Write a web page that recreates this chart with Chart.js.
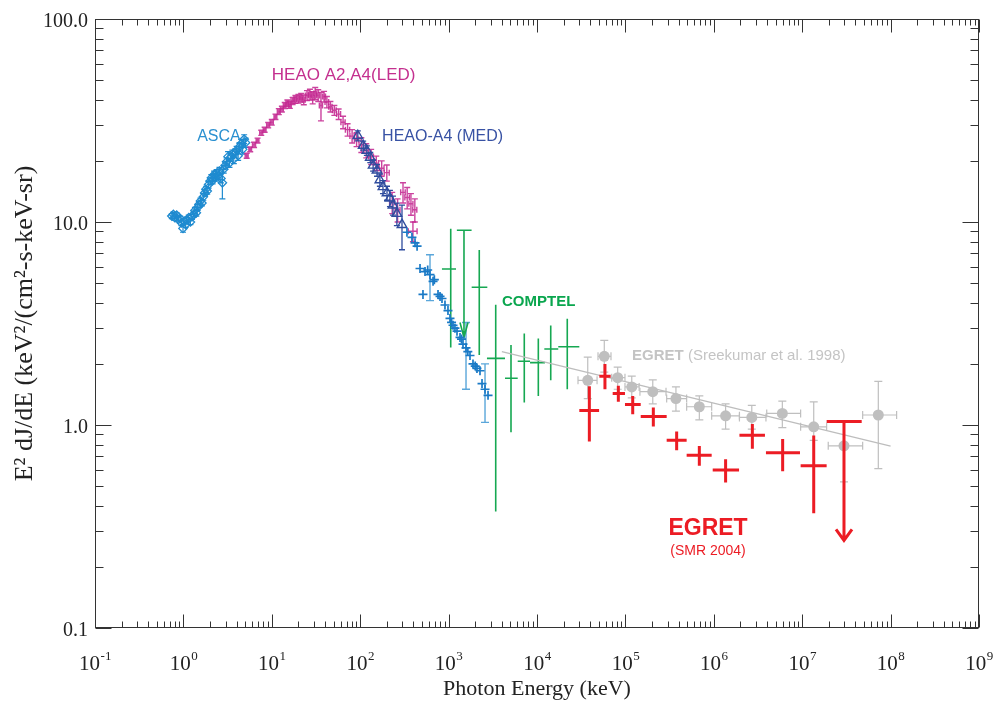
<!DOCTYPE html>
<html><head><meta charset="utf-8">
<script src="https://cdn.jsdelivr.net/npm/chart.js@4.4.1/dist/chart.umd.min.js"></script>
<style>html,body{margin:0;padding:0;background:#fff;}canvas{display:block;}</style>
</head><body>
<canvas id="c" width="993" height="705"></canvas>
<script>
// ---------------- DATA (keV, keV^2/(cm^2 s keV sr)) ----------------
const xDecades = [0.1,1,10,100,1e3,1e4,1e5,1e6,1e7,1e8,1e9];
const xExponents = ['-1','0','1','2','3','4','5','6','7','8','9'];
const yTickValues = [0.1,1,10,100];
const yTickLabels = ['0.1','1.0','10.0','100.0'];

// ASCA
const ascaE = [0.74,0.77,0.80,0.84,0.88,0.92,0.95,0.99,1.02,1.06,1.10,1.15,1.20,1.25,1.30,1.35,1.40,1.45,1.50,1.56,1.62,1.68,1.74,1.80,1.86,1.93,2.00,2.07,2.14,2.22,2.30,2.38,2.47,2.56,2.66,2.76,2.86,2.97,3.08,3.20,3.32,3.45,3.58,3.72,3.86,4.00,4.16,4.32,4.50,4.68,4.87,5.05];
const ascaF = [10.7,10.9,10.5,10.8,10.3,10.4,9.9,9.3,10.1,9.7,10.2,10.5,10.0,10.6,10.9,11.4,11.1,11.8,12.2,12.7,12.4,13.3,13.9,14.5,14.2,15.3,15.9,16.5,16.0,17.1,16.6,17.4,16.9,17.8,16.4,15.6,18.2,19.0,19.8,21.0,19.5,20.9,21.6,20.4,21.9,22.6,21.2,23.5,24.3,22.8,25.6,24.6];
const ascaDF = [0.3,0.3,0.3,0.3,0.3,0.3,0.3,0.4,0.3,0.3,0.3,0.3,0.3,0.3,0.3,0.4,0.4,0.4,0.4,0.4,0.4,0.5,0.5,0.5,0.5,0.6,0.6,0.6,0.6,0.7,0.7,0.7,0.7,0.8,0.8,2.6,0.8,0.8,0.9,1.2,0.9,0.9,1.0,1.0,1.0,1.0,1.1,1.1,1.2,1.2,1.3,1.3];

// HEAO A2, A4 (LED)
const ledE  = [5.2,5.7,6.3,6.9,7.6,8.3,9.1,10.0,11.0,12.0,13.0,14.0,15.0,16.0,17.2,18.5,20.0,21.5,23.0,25.0,27.0,29.0,31.0,33.5,36.0,39.0,42.0,46.0,51.0,57.0,64.0,72.0,81.0,91.0,103,117,133,152,175,200,230,265,305,340,375,415,395];
const ledF  = [21.2,22.8,24.0,25.2,27.5,28.5,30.0,31.0,33.0,35.0,36.0,37.5,38.5,37.8,39.5,40.2,40.5,41.0,40.0,42.0,42.5,41.0,43.0,42.0,37.5,41.5,39.0,37.0,35.5,34.0,31.0,28.5,26.5,25.5,24.0,22.5,21.0,19.5,18.4,17.5,12.5,11.5,14.0,13.2,12.3,11.5,9.0];
const ledDE = [0.2,0.2,0.25,0.25,0.3,0.3,0.35,0.4,0.4,0.45,0.5,0.5,0.55,0.6,0.7,0.7,0.8,0.8,0.9,1.0,1.0,1.2,1.2,1.3,1.5,1.5,2.0,2.0,2.5,3.0,3.5,4.0,4.5,5,6,7,8,9,11,13,15,17,18,20,20,22,45];
const ledDF = [0.6,0.6,0.7,0.7,0.8,0.8,0.9,1.0,1.0,1.2,1.2,1.3,1.4,1.5,1.6,1.8,2.0,2.0,2.2,2.4,2.6,2.8,3.0,2.8,6.0,2.5,2.5,2.2,2.0,2.0,2.2,2.0,2.0,2.0,2.0,1.8,1.8,1.6,1.6,1.6,1.5,1.5,1.6,1.6,1.5,1.5,1.0];

// HEAO-A4 (MED)
const medE  = [94,108,119,130,140,155,167,181,201,217,235,260,297];
const medF  = [26.6,23.8,22.5,20.8,19.0,18.0,16.1,14.9,13.9,13.1,12.1,11.0,9.7];
const medDF = [1.5,1.2,1.2,1.2,1.2,1.2,1.1,1.1,1.1,1.2,1.3,1.4,2.4];

// crosses (MeV continuum)
const smmE = [338,385,417,440,475,513,541,580,616,667,690,759,800,842,910,984,1037,1080,1122,1180,1245,1346,1400,1455,1574,1650,1746,1888,2000,2094,2265,2388,2582,2793];
const smmF = [8.9,8.4,7.9,7.6,5.9,4.4,5.7,5.8,5.5,5.1,5.2,4.4,4.3,4.2,3.9,3.66,3.35,3.2,3.1,3.0,2.9,2.7,2.65,2.5,2.4,2.3,2.2,2.0,1.95,1.9,1.85,1.6,1.5,1.4];
const smmBarE  = [616,1574,2582];
const smmBarF  = [5.5,2.4,1.5];
const smmBarLo = [4.1,1.5,1.03];
const smmBarHi = [6.9,3.2,2.0];

// COMPTEL
const comptelE   = [1057,2223,3412,5080,7180,10350,14300,22000];
const comptelF   = [5.87,4.77,2.13,1.70,2.06,2.03,2.37,2.43];
const comptelELo = [841,1824,2716,4345,6050,8340,12100,17400];
const comptelEHi = [1213,2742,4345,6050,8340,12300,17400,30100];
const comptelFLo = [2.41,2.21,0.375,0.92,1.29,1.39,1.66,1.50];
const comptelFHi = [9.27,7.28,3.91,2.48,2.82,2.67,3.09,3.34];
const comptelUlE = [1493], comptelUlF = [9.1], comptelUlTip = [2.7], comptelUlELo = [1240], comptelUlEHi = [1820];

// EGRET (Sreekumar et al. 1998)
const sreeE   = [37500,57700,81800,118000,204000,373000,686000,1.36e6,2.69e6,5.96e6,1.35e7,2.97e7,7.26e7];
const sreeF   = [1.66,2.18,1.71,1.54,1.46,1.35,1.23,1.11,1.09,1.14,0.98,0.79,1.12];
const sreeELo = [29100,49000,70000,98900,146000,293000,493000,946000,1.95e6,3.97e6,9.6e6,1.97e7,4.83e7];
const sreeEHi = [47800,68700,98900,143000,288000,493000,946000,1.95e6,3.89e6,9.6e6,1.89e7,4.83e7,1.17e8];
const sreeFLo = [1.35,1.82,1.50,1.36,1.27,1.17,1.06,0.955,0.955,0.97,0.84,0.525,0.61];
const sreeFHi = [2.16,2.61,1.93,1.74,1.67,1.54,1.39,1.27,1.25,1.31,1.30,1.05,1.64];
const sreeFitE = [4000,1e8];
const sreeFitF = [2.30,0.787];

// EGRET (SMR 2004)
const smrE   = [39100,58700,83200,121000,207000,380000,686000,1.36e6,2.73e6,6.01e6,1.35e7];
const smrF   = [1.18,1.74,1.43,1.26,1.10,0.84,0.71,0.60,0.89,0.73,0.63];
const smrELo = [30100,50700,71800,98900,149000,293000,493000,972000,1.95e6,3.89e6,9.6e6];
const smrEHi = [50400,68200,98900,149000,293000,493000,946000,1.93e6,3.79e6,9.44e6,1.89e7];
const smrFLo = [0.83,1.50,1.30,1.13,0.984,0.75,0.629,0.521,0.763,0.592,0.368];
const smrFHi = [1.55,2.0,1.56,1.39,1.22,0.928,0.787,0.678,1.01,0.854,0.887];
const smrUlE = [2.97e7], smrUlF = [1.04], smrUlTip = [0.27], smrUlELo = [1.89e7], smrUlEHi = [4.71e7];

// ---------------- helpers ----------------
const pts = (xs, ys) => xs.map((v, i) => ({x: v, y: ys[i]}));
const minus = (a, d) => a.map((v, i) => v - d[i]);
const plus  = (a, d) => a.map((v, i) => v + d[i]);

const COL = {asca:'#1f8bd0', led:'#c4268d', ledBar:'rgba(196,40,145,0.88)', med:'#2f4c9e', smm:'#1a7ac6', smmBar:'#5aa6da',
             comptel:'#16a852', gray:'#bfbfbf', red:'#ec1c24'};

function drawBars(chart, onTop) {
  const {ctx, chartArea: a} = chart; const xs = chart.scales.x, ys = chart.scales.y;
  ctx.save();
  ctx.beginPath(); ctx.rect(a.left, a.top, a.right - a.left, a.bottom - a.top + 40); ctx.clip();
  const list = chart.data.datasets.slice().reverse();
  for (const ds of list) {
    const e = ds.errorBars; if (!e || !!e.onTop !== onTop) continue;
    ctx.strokeStyle = e.color; ctx.lineWidth = e.width; ctx.lineCap = 'butt'; ctx.lineJoin = 'miter';
    ds.data.forEach((p, i) => {
      const px = xs.getPixelForValue(p.x), py = ys.getPixelForValue(p.y);
      ctx.beginPath();
      if (e.xLo && e.xLo[i] != null) {
        const l = xs.getPixelForValue(e.xLo[i]), r = xs.getPixelForValue(e.xHi[i]);
        ctx.moveTo(l, py); ctx.lineTo(r, py);
        if (e.capX) { ctx.moveTo(l, py - e.capX); ctx.lineTo(l, py + e.capX); ctx.moveTo(r, py - e.capX); ctx.lineTo(r, py + e.capX); }
      }
      if (e.yLo && e.yLo[i] != null) {
        const t = ys.getPixelForValue(e.yHi[i]), b = ys.getPixelForValue(e.yLo[i]);
        ctx.moveTo(px, t); ctx.lineTo(px, b);
        if (e.capY) { ctx.moveTo(px - e.capY, t); ctx.lineTo(px + e.capY, t); ctx.moveTo(px - e.capY, b); ctx.lineTo(px + e.capY, b); }
      }
      if (e.tip && e.tip[i] != null) {
        const b = ys.getPixelForValue(e.tip[i]);
        ctx.moveTo(px, py); ctx.lineTo(px, b);
        ctx.moveTo(px - e.headW, b - e.headH); ctx.lineTo(px, b); ctx.lineTo(px + e.headW, b - e.headH);
      }
      ctx.stroke();
    });
  }
  ctx.restore();
}

const annotations = [
  {text:'HEAO A2,A4(LED)', x:10.0, y:53, color:'#c4308f', font:'17px "Liberation Sans"', align:'left'},
  {text:'ASCA', x:1.43, y:26.3, color:'#2a90d0', font:'16px "Liberation Sans"', align:'left'},
  {text:'HEAO-A4 (MED)', x:177, y:26.3, color:'#3852a4', font:'16px "Liberation Sans"', align:'left'},
  {text:'COMPTEL', x:4020, y:4.05, color:'#0aa64e', font:'bold 15px "Liberation Sans"', align:'left'},
  {text:'EGRET', x:8.6e5, y:0.307, color:'#ec1c24', font:'bold 23px "Liberation Sans"', align:'center'},
  {text:'(SMR 2004)', x:8.6e5, y:0.239, color:'#ec1c24', font:'14px "Liberation Sans"', align:'center'}
];
const sreeLabel = {bold:'EGRET', rest:' (Sreekumar et al. 1998)', x:1.19e5, y:2.18, color:'#c4c4c4', size:15};

const decor = {
  id: 'decor',
  beforeDatasetsDraw(chart) { drawBars(chart, false); },
  afterDatasetsDraw(chart) {
    drawBars(chart, true);
    const {ctx} = chart; const xs = chart.scales.x, ys = chart.scales.y;
    ctx.save(); ctx.textBaseline = 'middle';
    for (const t of annotations) {
      ctx.font = t.font; ctx.fillStyle = t.color; ctx.textAlign = t.align;
      ctx.fillText(t.text, xs.getPixelForValue(t.x), ys.getPixelForValue(t.y));
    }
    ctx.textAlign = 'left'; ctx.fillStyle = sreeLabel.color;
    let lx = xs.getPixelForValue(sreeLabel.x); const ly = ys.getPixelForValue(sreeLabel.y);
    ctx.font = 'bold ' + sreeLabel.size + 'px "Liberation Sans"'; ctx.fillText(sreeLabel.bold, lx, ly);
    lx += ctx.measureText(sreeLabel.bold).width;
    ctx.font = sreeLabel.size + 'px "Liberation Sans"'; ctx.fillText(sreeLabel.rest, lx, ly);
    ctx.restore();
  },
  afterDraw(chart) {
    const {ctx, chartArea: a} = chart; const xs = chart.scales.x, ys = chart.scales.y;
    ctx.save();
    ctx.strokeStyle = '#333'; ctx.lineWidth = 1;
    ctx.strokeRect(Math.round(a.left) + 0.5, Math.round(a.top) + 0.5, Math.round(a.right - a.left) - 1, Math.round(a.bottom - a.top) - 1);
    ctx.beginPath();
    const L = Math.round(a.left) + 0.5, R = Math.round(a.right) - 0.5, T = Math.round(a.top) + 0.5, B = Math.round(a.bottom) - 0.5;
    xDecades.forEach((d, k) => {
      const px = Math.round(xs.getPixelForValue(d)) + 0.5;
      ctx.moveTo(px, B); ctx.lineTo(px, B - 13); ctx.moveTo(px, T); ctx.lineTo(px, T + 13);
      if (k < xDecades.length - 1) for (let m = 2; m <= 9; m++) {
        const q = Math.round(xs.getPixelForValue(d * m)) + 0.5;
        ctx.moveTo(q, B); ctx.lineTo(q, B - 6); ctx.moveTo(q, T); ctx.lineTo(q, T + 6);
      }
    });
    yTickValues.forEach((d, k) => {
      const py = Math.round(ys.getPixelForValue(d)) + 0.5;
      ctx.moveTo(L, py); ctx.lineTo(L + 16, py); ctx.moveTo(R, py); ctx.lineTo(R - 16, py);
      if (k < yTickValues.length - 1) for (let m = 2; m <= 9; m++) {
        const q = Math.round(ys.getPixelForValue(d * m)) + 0.5;
        ctx.moveTo(L, q); ctx.lineTo(L + 8, q); ctx.moveTo(R, q); ctx.lineTo(R - 8, q);
      }
    });
    ctx.stroke();
    // x tick labels 10^n
    ctx.fillStyle = '#222'; ctx.textBaseline = 'alphabetic'; ctx.textAlign = 'left';
    const baseFont = '21px "Liberation Serif"', expFont = '13px "Liberation Serif"';
    xDecades.forEach((d, k) => {
      const px = xs.getPixelForValue(d);
      ctx.font = baseFont; const w1 = ctx.measureText('10').width;
      ctx.font = expFont; const w2 = ctx.measureText(xExponents[k]).width;
      const x0 = px - (w1 + w2) / 2, yb = a.bottom + 42;
      ctx.font = baseFont; ctx.fillText('10', x0, yb);
      ctx.font = expFont; ctx.fillText(xExponents[k], x0 + w1 + 0.5, yb - 10);
    });
    ctx.restore();
  }
};

const logTicks = vals => scale => { scale.ticks = vals.map(v => ({value: v})); };

new Chart(document.getElementById('c'), {
  type: 'scatter',
  data: {
    datasets: [
      {label:'EGRET (SMR 2004)', data: pts(smrE, smrF), pointRadius: 0,
       errorBars:{color:COL.red, width:3, onTop:true, xLo:smrELo, xHi:smrEHi, yLo:smrFLo, yHi:smrFHi}},
      {label:'EGRET (SMR 2004) upper limit', data: pts(smrUlE, smrUlF), pointRadius: 0,
       errorBars:{color:COL.red, width:3, onTop:true, xLo:smrUlELo, xHi:smrUlEHi, tip:smrUlTip, headW:8, headH:11}},
      {label:'EGRET (Sreekumar et al. 1998)', data: pts(sreeE, sreeF), pointRadius: 5.5, pointStyle:'circle',
       backgroundColor: COL.gray, borderColor: COL.gray, borderWidth: 0,
       errorBars:{color:COL.gray, width:1.2, capX:4, capY:4, xLo:sreeELo, xHi:sreeEHi, yLo:sreeFLo, yHi:sreeFHi}},
      {label:'EGRET fit', data: pts(sreeFitE, sreeFitF), showLine:true, pointRadius:0, borderColor:'#bdbdbd', borderWidth:1.3},
      {label:'COMPTEL', data: pts(comptelE, comptelF), pointRadius: 0,
       errorBars:{color:COL.comptel, width:1.6, xLo:comptelELo, xHi:comptelEHi, yLo:comptelFLo, yHi:comptelFHi}},
      {label:'COMPTEL upper limit', data: pts(comptelUlE, comptelUlF), pointRadius: 0,
       errorBars:{color:COL.comptel, width:1.6, xLo:comptelUlELo, xHi:comptelUlEHi, tip:comptelUlTip, headW:4, headH:15}},
      {label:'MeV', data: pts(smmE, smmF), pointStyle:'cross', pointRadius: 4.5, borderColor: COL.smm, borderWidth: 1.7},
      {label:'MeV bars', data: pts(smmBarE, smmBarF), pointRadius: 0,
       errorBars:{color:COL.smmBar, width:1.4, capY:4, yLo:smmBarLo, yHi:smmBarHi}},
      {label:'HEAO-A4 (MED)', data: pts(medE, medF), pointStyle:'triangle', pointRadius: 5.5, borderColor: COL.med,
       backgroundColor:'rgba(0,0,0,0)', borderWidth: 1.4,
       errorBars:{color:COL.med, width:1.3, capY:3, yLo:minus(medF, medDF), yHi:plus(medF, medDF)}},
      {label:'HEAO A2,A4 (LED)', data: pts(ledE, ledF), pointRadius: 0,
       errorBars:{color:COL.ledBar, width:1.4, capX:3, capY:3, xLo:minus(ledE, ledDE), xHi:plus(ledE, ledDE), yLo:minus(ledF, ledDF), yHi:plus(ledF, ledDF)}},
      {label:'ASCA', data: pts(ascaE, ascaF), pointStyle:'rectRot', pointRadius: 4.2, borderColor: COL.asca,
       backgroundColor:'rgba(0,0,0,0)', borderWidth: 1.3,
       errorBars:{color:COL.asca, width:1.2, capY:3, yLo:minus(ascaF, ascaDF), yHi:plus(ascaF, ascaDF)}}
    ]
  },
  options: {
    responsive: false, animation: false, events: [], devicePixelRatio: 1,
    layout: {padding: {left: 0, right: 14, top: 12, bottom: 0}},
    plugins: {legend: {display: false}, tooltip: {enabled: false}},
    scales: {
      x: {type: 'logarithmic', position: 'bottom', min: 0.1, max: 1e9,
          afterBuildTicks: logTicks(xDecades),
          ticks: {display: false},
          grid: {display: false, drawTicks: false}, border: {display: false},
          title: {display: true, text: 'Photon Energy (keV)', color: '#222',
                  font: {family: 'Liberation Serif', size: 22}, padding: {top: 0, bottom: 3}},
          afterFit: s => { s.height = 77; }},
      y: {type: 'logarithmic', position: 'left', min: 0.1, max: 100,
          afterBuildTicks: logTicks(yTickValues),
          ticks: {autoSkip: false, padding: 7, labelOffset: 3, color: '#222', font: {family: 'Liberation Serif', size: 20},
                  callback: v => { const i = yTickValues.findIndex(t => Math.abs(t - v) / t < 1e-6); return i >= 0 ? yTickLabels[i] : ''; }},
          grid: {display: false, drawTicks: false}, border: {display: false},
          title: {display: true, text: 'E² dJ/dE (keV²/(cm²-s-keV-sr)', color: '#222',
                  font: {family: 'Liberation Serif', size: 26}, padding: {top: 10, bottom: 0}},
          afterFit: s => { s.width = 95; }}
    }
  },
  plugins: [decor]
});
</script>
</body></html>
